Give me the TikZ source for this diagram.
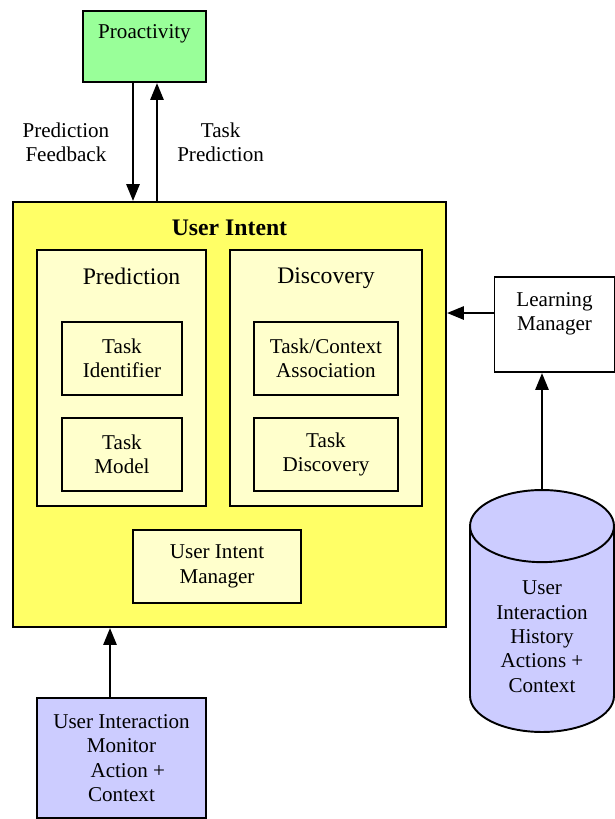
\documentclass[tikz,border=0pt]{standalone}
\usepackage{fontspec}
\setmainfont{Liberation Serif}
\usetikzlibrary{positioning, shapes.geometric, arrows.meta}
\definecolor{proactgreen}{RGB}{153,255,153}
\definecolor{intentyellow}{RGB}{255,255,102}
\definecolor{paleyellow}{RGB}{255,255,204}
\definecolor{lavender}{RGB}{204,204,255}

\begin{document}
\begin{tikzpicture} [x=0.02cm, y=-0.02cm, font=\fontsize{12}{13.9}\selectfont,
  box/.style={draw, line width=1.1pt, align=center, inner sep=2pt},
  small/.style={box, fill=paleyellow, minimum height=1.46cm},
  title/.style={anchor=north, yshift=-6.5pt, font=\fontsize{13.5}{15}\selectfont},
  link/.style={line width=1.6pt, -{Triangle[width=0.26cm, length=0.34cm]}}]
\useasboundingbox (0,0) rectangle (615,819);

\node[box, fill=proactgreen, minimum width=2.46cm, minimum height=1.42cm,
  label={[anchor=north, yshift=-4.6pt]north:Proactivity}] (proact) at (144.5,46.5) {};

\node[box, fill=intentyellow, minimum width=8.66cm, minimum height=8.5cm,
  label={[title, yshift=-0.6pt, font=\fontsize{13.5}{15}\selectfont\bfseries]north:User Intent}] (ui) at (229.5,414.5) {};
\node[box, fill=paleyellow, minimum width=3.38cm, minimum height=5.12cm,
  label={[title, xshift=0.2cm, yshift=-0.5pt]north:Prediction}] (pred) at (121.5,378) {};
\node[box, fill=paleyellow, minimum width=3.84cm, minimum height=5.12cm,
  label={[title, yshift=-0.5pt]north:Discovery}] (disc) at (326,378) {};

\node[small, minimum width=2.4cm] (taskid) at (122,358.5) {Task\\Identifier};
\node[small, minimum width=2.4cm] (taskmodel) at (122,454.5) {Task\\Model};
\node[small, minimum width=2.88cm] (assoc) at (326,358.5) {Task/Context\\Association};
\node[small, minimum width=2.88cm] (taskdisc) at (326,454.5) {Task\\Discovery};
\node[small, minimum width=3.36cm] (uimgr) at (217,566.5) {User Intent\\Manager};

\node[box, fill=white, minimum width=2.4cm, minimum height=1.9cm,
  label={[anchor=north, yshift=-5.7pt, align=center]north:Learning\\Manager}] (learn) at (554.5,324.5) {};

\node[cylinder, shape border rotate=90, draw, line width=1.1pt, fill=lavender, aspect=0.7,
  minimum width=2.88cm, minimum height=4.84cm, align=center, anchor=shape center] (hist) at (542,611)
  {User\\Interaction\\History\\Actions +\\Context};

\node[box, fill=lavender, minimum width=3.38cm, minimum height=2.4cm] (monitor) at (121.5,758)
  {User Interaction\\Monitor\\\hspace{0.6em}Action +\\Context};

\draw[link] ([xshift=-0.23cm]proact.south) -- ([xshift=-0.23cm]proact.south |- ui.north)
  node (fbtext) [midway, left=0.33cm, align=center] {Prediction\\Feedback};
\draw[link] ([xshift=0.25cm]proact.south |- ui.north) -- ([xshift=0.25cm]proact.south)
  node (predtext) [midway, right=0.26cm, align=center] {Task\\Prediction};
\draw[link] ([yshift=0.23cm]learn.west) -- ([yshift=0.23cm]learn.west -| ui.east);
\draw[link] (hist.north) -- (hist.north |- learn.south);
\draw[link] ([xshift=-0.23cm]monitor.north) -- ([xshift=-0.23cm]monitor.north |- ui.south);
\end{tikzpicture}
\end{document}
